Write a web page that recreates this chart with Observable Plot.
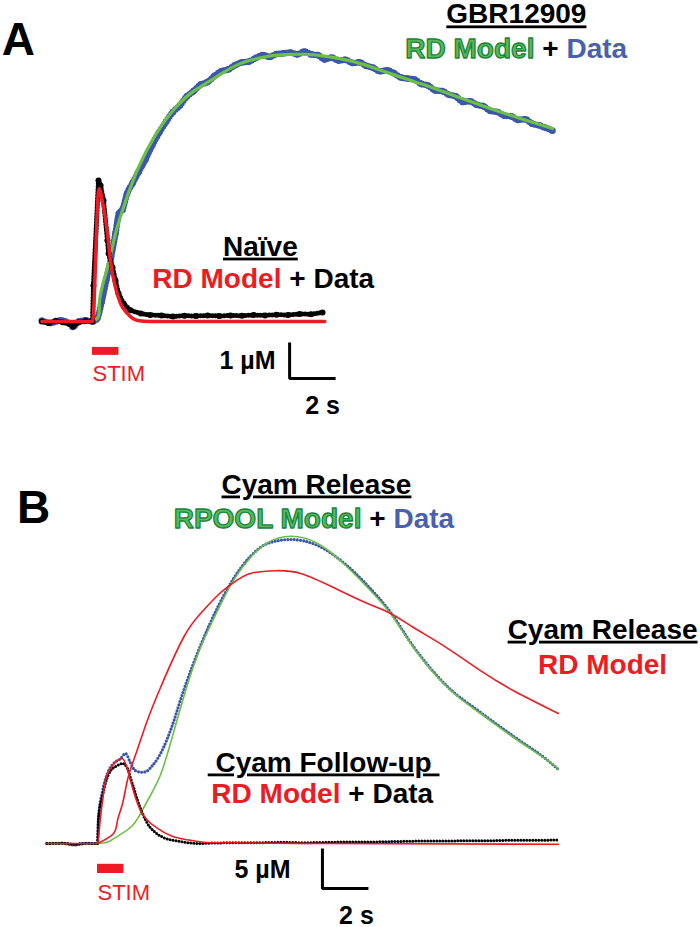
<!DOCTYPE html>
<html><head><meta charset="utf-8">
<script src="https://cdn.jsdelivr.net/npm/d3@7"></script>
<script src="https://cdn.jsdelivr.net/npm/@observablehq/plot@0.6"></script>
<style>
body{margin:0;background:#fff;width:700px;height:927px;overflow:hidden}
svg{display:block;overflow:visible}
</style></head><body><div id="chart"></div>
<script>
// ---------- Panel A (time in s, concentration in µM) ----------
const naiveData = [[-2.2,0.0],[-1.9,-0.04],[-1.6,0.02],[-1.3,-0.02],[-1.0,-0.07],[-0.85,-0.14],[-0.6,-0.02],[-0.3,0.02],[0,0.0],[0.04,1.0],[0.26,3.92],[0.35,3.78],[0.48,3.36],[0.65,2.25],[0.7,1.89],[0.87,1.5],[1.0,1.14],[1.13,0.78],[1.35,0.5],[1.65,0.31],[2.1,0.22],[2.5,0.18],[3,0.17],[3.5,0.14],[4,0.16],[4.5,0.15],[5,0.17],[5.5,0.15],[6,0.17],[6.5,0.16],[7,0.18],[7.5,0.17],[8,0.19],[8.5,0.18],[9,0.21],[9.5,0.2],[10,0.25]];
const naiveModel = [[-2.2,0],[0,0],[0.28,3.69],[0.48,3.17],[0.65,2.44],[0.78,1.69],[1.0,0.94],[1.22,0.5],[1.52,0.22],[1.96,0.03],[2.5,0],[10.1,0]];
const gbrData = [[-2.2,0.02],[-1.8,-0.04],[-1.4,0.03],[-1.0,-0.05],[-0.85,-0.15],[-0.6,0.0],[-0.3,0.03],[0,0.0],[0.2,0.08],[0.4,0.55],[0.6,1.15],[0.8,1.75],[1.0,2.45],[1.15,3.0],[1.3,3.1],[1.5,3.55],[1.75,3.85],[2.0,4.15],[2.3,4.5],[2.6,4.9],[2.9,5.25],[3.2,5.55],[3.5,5.82],[3.8,6.0],[4.1,6.25],[4.4,6.4],[4.7,6.58],[5.0,6.65],[5.3,6.82],[5.6,6.95],[5.9,7.0],[6.2,7.12],[6.5,7.2],[6.8,7.22],[7.1,7.32],[7.4,7.4],[7.7,7.35],[8.0,7.43],[8.3,7.45],[8.6,7.47],[8.9,7.42],[9.2,7.5],[9.5,7.42],[9.8,7.4],[10.1,7.28],[10.4,7.33],[10.7,7.25],[11.0,7.27],[11.3,7.18],[11.6,7.2],[11.9,7.1],[12.2,7.05],[12.5,6.95],[12.8,6.98],[13.1,6.9],[13.4,6.78],[13.7,6.75],[14.0,6.72],[14.3,6.6],[14.6,6.55],[14.9,6.42],[15.2,6.4],[15.5,6.3],[15.8,6.25],[16.1,6.1],[16.4,6.12],[16.7,6.02],[17.0,5.98],[17.3,5.85],[17.6,5.82],[17.9,5.72],[18.2,5.7],[18.5,5.6],[18.8,5.62],[19.1,5.5],[19.4,5.45],[19.7,5.38],[20.0,5.3]];
const gbrModel = [[-2.2,0],[0,0],[0.3,0.55],[0.65,1.5],[1.0,2.44],[1.45,3.36],[2.0,4.28],[2.75,5.2],[3.5,5.86],[4.25,6.33],[5.0,6.64],[5.7,6.92],[6.45,7.17],[7.2,7.31],[7.9,7.39],[8.6,7.42],[9.35,7.42],[10.0,7.38],[11.35,7.22],[12.8,6.92],[14.25,6.61],[15.7,6.28],[17.2,5.94],[18.6,5.64],[20.0,5.36]];

// ---------- Panel B ----------
const followData = [[-2.2,0],[-1.5,0.05],[-1.0,-0.1],[-0.5,0.02],[0,0],[0.04,3.1],[0.22,6.0],[0.35,7.6],[0.57,9.1],[0.87,9.75],[1.09,10.0],[1.3,9.4],[1.43,8.25],[1.57,7.0],[1.74,5.4],[1.96,3.75],[2.17,2.5],[2.43,1.6],[2.87,0.75],[3.6,0.25],[4.35,0.0],[5,0.05],[6,0.1],[7,0.1],[8,0.15],[9,0.1],[10,0.15],[11,0.2],[12,0.2],[13,0.25],[14,0.3],[15,0.3],[16,0.35],[17,0.35],[18,0.4],[19,0.4],[20.04,0.45]];
const followModel = [[-2.2,0],[0,0],[0.13,3.25],[0.35,7.9],[0.57,9.4],[0.87,10.4],[1.09,10.6],[1.22,10.0],[1.43,7.9],[1.65,5.75],[1.87,4.1],[2.17,2.9],[2.61,1.9],[3.17,1.0],[4.04,0.4],[4.9,0.1],[10,0],[20.04,-0.1]];
const releaseData = [[-2.2,0],[-1.5,0],[-1.0,-0.2],[-0.5,0],[0,0],[0.04,3.1],[0.22,6.6],[0.43,8.75],[0.7,10.0],[1.0,10.6],[1.22,11.25],[1.43,10.1],[1.65,9.1],[1.96,8.9],[2.17,9.1],[2.39,9.75],[2.61,10.6],[2.87,12.0],[3.17,14.1],[3.74,19.1],[4.48,24.75],[5.22,29.5],[5.91,33.1],[6.65,35.9],[7.39,37.5],[8.39,38.0],[9.57,37.25],[10.7,35.1],[11.74,32.25],[12.74,28.9],[13.74,24.6],[15.22,19.6],[16.65,16.4],[18.09,13.4],[19.57,10.4],[20.04,9.25]];
const rpoolModel = [[-2.2,0],[0,0],[0.7,0.6],[1.43,2.0],[1.87,3.75],[2.3,6.0],[2.74,8.6],[3.17,12.5],[3.83,19.1],[4.48,24.5],[5.22,29.1],[5.91,32.9],[6.65,35.75],[7.39,37.6],[8.39,38.4],[9.57,37.5],[10.7,35.0],[11.74,32.0],[12.74,28.75],[13.74,24.5],[15.22,19.5],[16.65,16.25],[18.09,13.25],[19.57,10.4],[20.04,9.25]];
const releaseRDModel = [[0,0],[0.7,1.25],[0.87,2.9],[1.09,5.0],[1.3,7.9],[1.57,10.4],[1.87,12.9],[2.17,15.4],[2.74,19.5],[3.74,25.75],[4.48,28.75],[5.22,31.0],[5.91,32.6],[6.65,33.75],[7.74,34.1],[8.83,33.75],[10.26,32.0],[11.74,30.0],[12.74,28.75],[13.74,27.0],[15.22,24.4],[16.65,21.6],[18.09,19.1],[20.04,16.25]];

// stimulus duration (s) and scale-bar sizes
const stimDuration = [1.15];
const scaleA = [2, 1];   // 2 s, 1 µM
const scaleB = [2, 5];   // 2 s, 5 µM
const scaleLabelsA = ["1 µM", "2 s"];
const scaleLabelsB = ["5 µM", "2 s"];

// ---------- styling ----------
const FONT = '"Liberation Sans", Arial, Helvetica, sans-serif';
const RED = "#ed1c24", GREEN = "#6dbf45", BLUE = "#3b56ad", BLUE_TXT = "#4a5fae";
const GFILL = "#58b95a", GSTROKE = "#17853b";
const rows = p => p.map(([t, c]) => ({t, c}));

function label(t, c, text, o = {}) {
  return Plot.text([{t, c, text}], {x: "t", y: "c", text: "text", fontFamily: FONT, fontWeight: "bold",
    fontSize: 28, lineAnchor: "bottom", fill: "black", ...o});
}
function legendLine(t, c, left, leftOpts, right, rightOpts) {
  return [
    label(t, c, left, {textAnchor: "end", dx: -16, ...leftOpts}),
    label(t, c, "+", {textAnchor: "middle"}),
    label(t, c, right, {textAnchor: "start", dx: 16, ...rightOpts})
  ];
}
const greenText = {fill: GFILL, stroke: GSTROKE, strokeWidth: 1.3, paintOrder: "fill"};

function scaleBar(t0, c0, dt, dc, w) {
  return Plot.line([{t: t0, c: c0 + dc}, {t: t0, c: c0}, {t: t0 + dt, c: c0}],
    {x: "t", y: "c", stroke: "black", strokeWidth: w, strokeLinejoin: "miter", strokeLinecap: "butt"});
}
function stimBar(c1, c2) {
  return Plot.rect([{x1: 0, x2: stimDuration[0], y1: c1, y2: c2}], {x1: "x1", x2: "x2", y1: "y1", y2: "y2", fill: RED});
}

// ---------- Panel A ----------
const plotA = Plot.plot({
  width: 700, height: 440, marginLeft: 0, marginRight: 10, marginTop: 15, marginBottom: 29,
  x: {domain: [-4, 26], axis: null}, y: {domain: [-2.5, 8.5], axis: null},
  style: {background: "white", overflow: "visible"},
  marks: [
    Plot.line(rows(gbrData), {x: "t", y: "c", stroke: BLUE, strokeWidth: 6.5, strokeDasharray: "0 3", strokeLinecap: "round", curve: "monotone-x"}),
    Plot.dot(rows(gbrData), {x: "t", y: "c", r: 3.3, fill: BLUE}),
    Plot.line(rows(gbrModel), {x: "t", y: "c", stroke: GREEN, strokeWidth: 3.2, curve: "natural"}),
    Plot.line(rows(naiveData), {x: "t", y: "c", stroke: "black", strokeWidth: 5, strokeDasharray: "0 3", strokeLinecap: "round"}),
    Plot.dot(rows(naiveData), {x: "t", y: "c", r: 3, fill: "black"}),
    Plot.line(rows(naiveModel), {x: "t", y: "c", stroke: RED, strokeWidth: 3.5, curve: "monotone-x"}),
    stimBar(-0.72, -0.94),
    label(0, -1.64, "STIM", {fontWeight: "normal", fontSize: 22, fill: RED, textAnchor: "start"}),
    scaleBar(8.57, -1.58, scaleA[0], scaleA[1], 3),
    label(7.96, -1.31, scaleLabelsA[0], {fontSize: 25, textAnchor: "end"}),
    label(10.0, -2.56, scaleLabelsA[1], {fontSize: 25, textAnchor: "middle"}),
    label(-3.22, 7.39, "A", {fontSize: 46, textAnchor: "middle"}),
    label(18.43, 8.28, "GBR12909", {textAnchor: "middle"}),
    ...legendLine(19.91, 7.33, "RD Model", greenText, "Data", {fill: BLUE_TXT}),
    label(7.30, 1.83, "Naïve", {textAnchor: "middle"}),
    ...legendLine(8.91, 0.92, "RD Model", {fill: RED}, "Data", {})
  ]
});

// ---------- Panel B ----------
const plotB = Plot.plot({
  width: 700, height: 487, marginLeft: 5, marginRight: 5, marginTop: 3, marginBottom: 4,
  x: {domain: [-4, 26], axis: null}, y: {domain: [-10, 50], axis: null},
  style: {background: "white", overflow: "visible"},
  marks: [
    Plot.line(rows(releaseData), {x: "t", y: "c", stroke: BLUE, strokeWidth: 3.2, strokeDasharray: "0 3.2", strokeLinecap: "round", curve: "monotone-x"}),
    Plot.line(rows(rpoolModel), {x: "t", y: "c", stroke: GREEN, strokeWidth: 1.6, curve: "natural"}),
    Plot.line(rows(followData), {x: "t", y: "c", stroke: "black", strokeWidth: 3, strokeDasharray: "0 3", strokeLinecap: "round", curve: "monotone-x"}),
    Plot.line(rows(followModel), {x: "t", y: "c", stroke: RED, strokeWidth: 1.6, curve: "monotone-x"}),
    Plot.line(rows(releaseRDModel), {x: "t", y: "c", stroke: RED, strokeWidth: 1.6, curve: "natural"}),
    stimBar(-2.6, -3.75),
    label(0, -7.1, "STIM", {fontWeight: "normal", fontSize: 22, fill: RED, textAnchor: "start"}),
    scaleBar(9.78, -5.625, scaleB[0], scaleB[1], 3),
    label(8.39, -4.25, scaleLabelsB[0], {fontSize: 25, textAnchor: "end"}),
    label(11.26, -10, scaleLabelsB[1], {fontSize: 25, textAnchor: "middle"}),
    label(-2.78, 40.1, "B", {fontSize: 46, textAnchor: "middle"}),
    label(9.52, 43.75, "Cyam Release", {textAnchor: "middle"}),
    ...legendLine(12.17, 39.5, "RPOOL Model", greenText, "Data", {fill: BLUE_TXT}),
    label(21.96, 25.6, "Cyam Release", {textAnchor: "middle"}),
    label(21.96, 21.25, "RD Model", {textAnchor: "middle", fill: RED}),
    label(9.83, 9.0, " Cyam Follow-up ", {textAnchor: "middle"}),
    ...legendLine(11.26, 5.1, "RD Model", {fill: RED}, "Data", {})
  ]
});

const underlined = new Set(["GBR12909", "Naïve", "Cyam Release", " Cyam Follow-up "]);
for (const svg of [plotA, plotB]) {
  d3.select(svg).selectAll("text").filter(function() { return underlined.has(this.textContent); })
    .style("text-decoration", "underline").style("white-space", "pre");
  document.getElementById("chart").appendChild(svg);
}
</script></body></html>
